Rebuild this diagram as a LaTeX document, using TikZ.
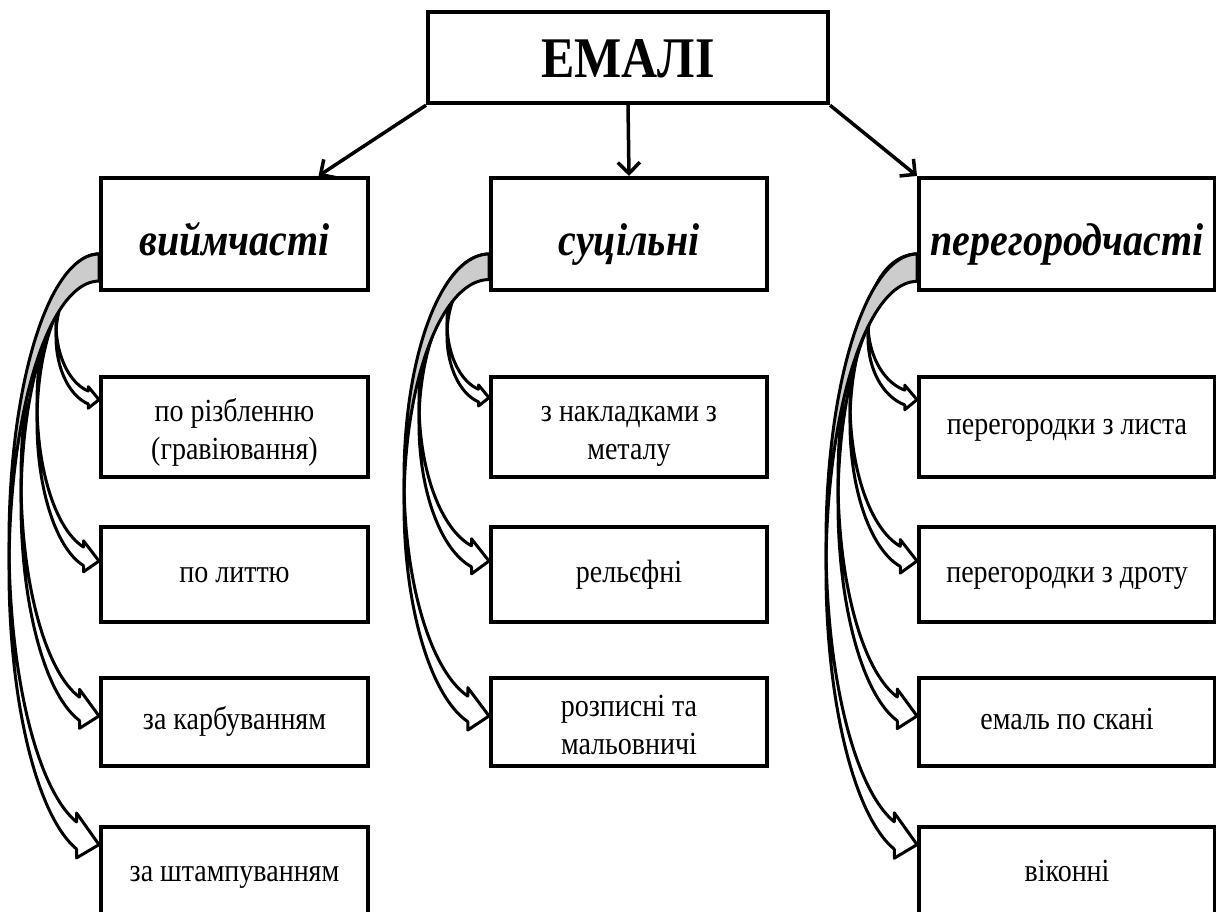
\documentclass[tikz,border=0pt]{standalone}
\usepackage{fontspec}
\setmainfont{Liberation Serif}
\usetikzlibrary{positioning,arrows.meta}

\newdimen\cvdim
% curved block arrow from the left side of a parent box to the left side of a child box
\newcommand\curvarrow[4]{%
  \pgfextractx{\cvdim}{\pgfpointanchor{#2}{west}}\pgfmathsetmacro\cvR{\cvdim}%
  \pgfextracty{\cvdim}{\pgfpointanchor{#2}{north}}\pgfmathsetmacro\cvTip{\cvdim-#4}%
  \pgfextracty{\cvdim}{\pgfpointanchor{#1}{south}}\pgfmathsetmacro\cvTop{\cvdim+38}%
  \pgfmathsetmacro\cvW{#3}%
  \pgfmathsetmacro\cvTh{#3*0.3}%
  \pgfmathsetmacro\cvH{(\cvTop-\cvTip-\cvTh/2)/2}%
  \pgfmathsetmacro\cvC{\cvTop-\cvH}%
  \pgfmathsetmacro\cvE{acos(0.25)}%
  \pgfmathsetmacro\cvYa{\cvC-\cvH*sin(\cvE)}%
  \pgfmathsetmacro\cvXa{\cvR-#3/4}%
  \draw[backpart] plot[domain=-90:0] ({\cvR-\cvW*cos(\x)},{\cvC-\cvTh-\cvH*sin(\x)})
    -- plot[domain=0:-90] ({\cvR-\cvW*cos(\x)},{\cvC-\cvH*sin(\x)}) -- cycle;
  \draw[frontpart] plot[domain=0:\cvE] ({\cvR-\cvW*cos(\x)},{\cvC-\cvH*sin(\x)})
    -- (\cvXa,\cvYa+#3/10) -- (\cvR,\cvTip) -- (\cvXa,\cvYa-\cvTh-#3/10)
    -- (\cvXa,\cvYa-\cvTh)
    -- plot[domain=\cvE:0] ({\cvR-\cvW*cos(\x)},{\cvC-\cvTh-\cvH*sin(\x)}) -- cycle;
}

\begin{document}
\begin{tikzpicture}[
  x=1pt, y=1pt,
  tall/.style={yscale=1.15, transform shape},
  root/.style={tall, rectangle, draw, fill=white, line width=4pt, minimum width=400pt,
               minimum height=79pt, text height=34pt, text depth=0pt,
               font=\fontsize{50}{58}\selectfont\bfseries},
  kind/.style={tall, rectangle, draw, fill=white, line width=4pt, minimum height=97pt,
               text height=40pt, text depth=2pt,
               font=\fontsize{40}{48}\selectfont\bfseries\itshape},
  item/.style={tall, rectangle, draw, fill=white, line width=4pt,
               align=center, font=\fontsize{28}{33}\selectfont,
               execute at begin node=\strut, execute at end node=\strut},
  pair/.style={text height=57pt, text depth=0pt},
  link/.style={line width=3.5pt, -{Straight Barb[length=11pt,width=22pt]}},
  backpart/.style={draw, fill=black!20, line width=3pt, line join=round},
  frontpart/.style={draw, fill=white, line width=3pt, line join=round},
  samples=50
]
\useasboundingbox (0,0) rectangle (1216,911);
\node[root] (emali) at (628,853.5) {ЕМАЛІ};
\node[kind, minimum width=267pt] (viim)  at (234.5,677) {виймчасті};
\node[kind, minimum width=276pt] (sucil) at (629,677)   {суцільні};
\node[kind, minimum width=296pt] (perg)  at (1067,677)  {перегородчасті};

% first column
\node[item, pair, minimum width=267pt, minimum height=87pt] (v1) at (234.5,484)  {по різбленню\\(гравіювання)};
\node[item, minimum width=267pt, minimum height=82pt] (v2) at (234.5,336.5) {по литтю};
\node[item, minimum width=267pt, minimum height=76pt] (v3) at (234.5,189)  {за карбуванням};
\node[item, minimum width=267pt, minimum height=81pt] (v4) at (234.5,37.5) {за штампуванням};

% second column
\node[item, pair, minimum width=276pt, minimum height=87pt] (s1) at (629,484)  {з накладками з\\металу};
\node[item, minimum width=276pt, minimum height=82pt] (s2) at (629,336.5) {рельєфні};
\node[item, pair, minimum width=276pt, minimum height=76pt] (s3) at (629,189)  {розписні та\\мальовничі};

% third column
\node[item, minimum width=296pt, minimum height=87pt] (p1) at (1067,484)  {перегородки з листа};
\node[item, minimum width=296pt, minimum height=82pt] (p2) at (1067,336.5) {перегородки з дроту};
\node[item, minimum width=296pt, minimum height=76pt] (p3) at (1067,189)  {емаль по скані};
\node[item, minimum width=296pt, minimum height=81pt] (p4) at (1067,37.5) {віконні};

\draw[link] (emali.south west) -- (viim.31);
\draw[link] (emali.south) -- (sucil.north);
\draw[link] (emali.south east) -- (perg.north west);

\curvarrow{viim}{v1}{43}{25}
\curvarrow{viim}{v2}{62}{36}
\curvarrow{viim}{v3}{78}{40}
\curvarrow{viim}{v4}{90}{20}

\curvarrow{sucil}{s1}{42}{23}
\curvarrow{sucil}{s2}{70}{36}
\curvarrow{sucil}{s3}{85}{40}

\curvarrow{perg}{p1}{49}{25}
\curvarrow{perg}{p2}{67}{36}
\curvarrow{perg}{p3}{79}{40}
\curvarrow{perg}{p4}{91}{20}
\end{tikzpicture}
\end{document}
